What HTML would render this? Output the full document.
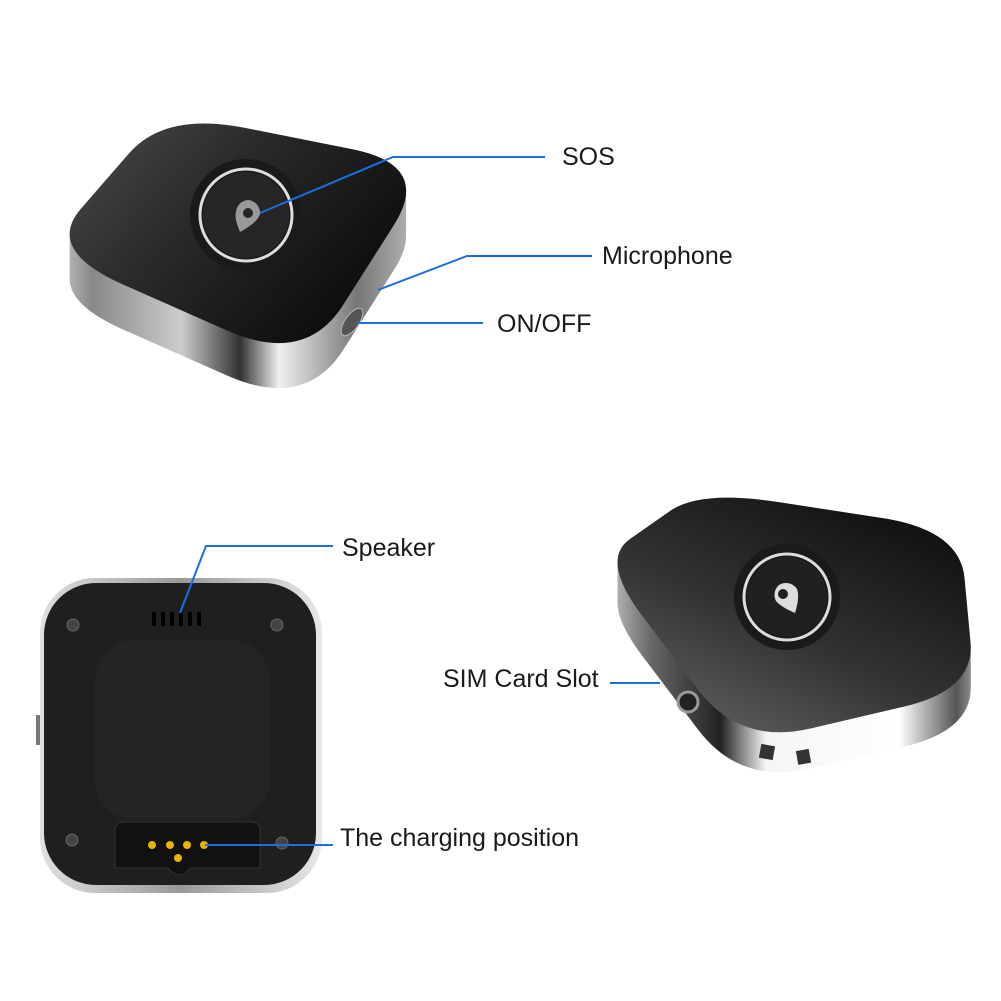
<!DOCTYPE html>
<html><head><meta charset="utf-8"><style>
html,body{margin:0;padding:0;background:#fff;}
svg{display:block}
text{font-family:"Liberation Sans","Noto Sans CJK SC",sans-serif;font-size:25px;fill:#1a1a1a}
</style></head><body>
<svg width="1001" height="1001" viewBox="0 0 1001 1001" xmlns="http://www.w3.org/2000/svg" xmlns:xlink="http://www.w3.org/1999/xlink">
<defs>
<linearGradient id="silv1" gradientUnits="userSpaceOnUse" x1="45" y1="0" x2="435" y2="0">
<stop offset="0" stop-color="#e0e0e0"/><stop offset="0.12" stop-color="#888"/><stop offset="0.35" stop-color="#ccc"/><stop offset="0.5" stop-color="#333"/><stop offset="0.6" stop-color="#f0f0f0"/><stop offset="0.8" stop-color="#777"/><stop offset="1" stop-color="#ccc"/>
</linearGradient>
<linearGradient id="silv2" gradientUnits="userSpaceOnUse" x1="595" y1="0" x2="975" y2="0">
<stop offset="0" stop-color="#ddd"/><stop offset="0.15" stop-color="#666"/><stop offset="0.33" stop-color="#222"/><stop offset="0.45" stop-color="#f5f5f5"/><stop offset="0.8" stop-color="#fff"/><stop offset="0.95" stop-color="#555"/><stop offset="1" stop-color="#999"/>
</linearGradient>
<linearGradient id="face1" x1="0" y1="0" x2="1" y2="0.6">
<stop offset="0" stop-color="#4a4a4a"/><stop offset="0.45" stop-color="#2a2a2a"/><stop offset="1" stop-color="#0c0c0c"/>
</linearGradient>
<linearGradient id="face2" x1="0" y1="1" x2="0.7" y2="0">
<stop offset="0" stop-color="#6a6a6a"/><stop offset="0.5" stop-color="#333"/><stop offset="1" stop-color="#111"/>
</linearGradient>
<linearGradient id="backsilver" x1="0" y1="0" x2="1" y2="0">
<stop offset="0" stop-color="#e0e0e0"/><stop offset="0.5" stop-color="#999"/><stop offset="1" stop-color="#e8e8e8"/>
</linearGradient>
<path id="p1" d="M129,153.4 Q165,112 245.1,127.9 L351.9,149.1 Q432,165 393.9,225 L343.1,305 Q305,365 227,330.5 L123,284.5 Q45,250 81,208.6 Z"/>
<path id="p2" d="M642,615.5 Q600,560 630,539 L670,511 Q700,490 778,502 L882,518 Q960,530 964.5,578 L970.5,642 Q975,690 904.5,706.5 L810.5,728.5 Q740,745 698,689.5 Z"/>
</defs>

<g fill="url(#silv1)">
<use xlink:href="#p1" href="#p1" transform="translate(0,45)"/>
<use xlink:href="#p1" href="#p1" transform="translate(0,40)"/>
<use xlink:href="#p1" href="#p1" transform="translate(0,35)"/>
<use xlink:href="#p1" href="#p1" transform="translate(0,30)"/>
<use xlink:href="#p1" href="#p1" transform="translate(0,25)"/>
<use xlink:href="#p1" href="#p1" transform="translate(0,20)"/>
<use xlink:href="#p1" href="#p1" transform="translate(0,15)"/>
<use xlink:href="#p1" href="#p1" transform="translate(0,10)"/>
<use xlink:href="#p1" href="#p1" transform="translate(0,5)"/>
</g>
<use xlink:href="#p1" href="#p1" fill="url(#face1)"/>

<g fill="url(#silv2)">
<use xlink:href="#p2" href="#p2" transform="translate(0,40)"/>
<use xlink:href="#p2" href="#p2" transform="translate(0,35)"/>
<use xlink:href="#p2" href="#p2" transform="translate(0,30)"/>
<use xlink:href="#p2" href="#p2" transform="translate(0,25)"/>
<use xlink:href="#p2" href="#p2" transform="translate(0,20)"/>
<use xlink:href="#p2" href="#p2" transform="translate(0,15)"/>
<use xlink:href="#p2" href="#p2" transform="translate(0,10)"/>
<use xlink:href="#p2" href="#p2" transform="translate(0,5)"/>
</g>
<use xlink:href="#p2" href="#p2" fill="url(#face2)"/>

<!-- Top device details -->
<circle cx="246" cy="215" r="56" fill="#1a1a1a"/>
<circle cx="246" cy="215" r="46" fill="none" stroke="#ddd" stroke-width="3"/>
<circle cx="246" cy="215" r="43" fill="#262626"/>
<path d="M248,200 a13,13 0 0 1 12,14 q-2,8 -20,18 q-6,-14 -4,-20 a13,13 0 0 1 12,-12z" fill="#999"/>
<circle cx="248" cy="213" r="5" fill="#262626"/>
<ellipse cx="352" cy="322" rx="7" ry="16" fill="#555" stroke="#bbb" transform="rotate(35 352 322)"/>
<polyline points="260,213 393,157 545,157" fill="none" stroke="#1a6fe0" stroke-width="2"/>
<text x="562" y="165">SOS</text>
<polyline points="378,290 467,256 592,256" fill="none" stroke="#1a6fe0" stroke-width="2"/>
<text x="602" y="264">Microphone</text>
<polyline points="357,323 483,323" fill="none" stroke="#1a6fe0" stroke-width="2"/>
<text x="497" y="332">ON/OFF</text>

<!-- Bottom-left device (back) -->
<rect x="36" y="715" width="8" height="30" fill="#777"/>
<rect x="40" y="578" width="282" height="315" rx="55" fill="url(#backsilver)"/>
<rect x="44" y="583" width="272" height="302" rx="52" fill="#1f1f1f"/>
<rect x="95" y="640" width="175" height="180" rx="40" fill="#242424"/>
<g fill="#000"><rect x="152" y="612" width="4" height="14"/><rect x="161" y="612" width="4" height="14"/><rect x="170" y="612" width="4" height="14"/><rect x="179" y="612" width="4" height="14"/><rect x="188" y="612" width="4" height="14"/><rect x="197" y="612" width="4" height="14"/></g>
<g fill="#444" stroke="#666"><circle cx="73" cy="625" r="6"/><circle cx="277" cy="625" r="6"/><circle cx="72" cy="840" r="6"/><circle cx="282" cy="843" r="6"/></g>
<path d="M115,830 Q115,822 125,822 L250,822 Q260,822 260,830 L260,868 L190,868 Q180,882 168,868 L115,868Z" fill="#111" stroke="#333"/>
<g fill="#e8b400"><circle cx="152" cy="845" r="4"/><circle cx="187" cy="845" r="4"/><circle cx="204" cy="845" r="4"/><circle cx="170" cy="845" r="4"/><circle cx="178" cy="858" r="4"/></g>
<polyline points="180,613 206,546 333,546" fill="none" stroke="#1a6fe0" stroke-width="2"/>
<text x="342" y="556">Speaker</text>
<polyline points="205,845 333,845" fill="none" stroke="#1a6fe0" stroke-width="2"/>
<text x="340" y="846">The charging position</text>

<!-- Bottom-right device details -->
<circle cx="787" cy="597" r="53" fill="#1a1a1a"/>
<circle cx="787" cy="597" r="43" fill="none" stroke="#ddd" stroke-width="3"/>
<circle cx="787" cy="597" r="40" fill="#202020"/>
<path d="M779,585 a13,13 0 0 1 18,4 q3,8 -2,24 q-14,-6 -19,-12 a13,13 0 0 1 3,-16z" fill="#ddd"/>
<circle cx="783" cy="594" r="5" fill="#202020"/>
<circle cx="688" cy="702" r="10" fill="#222" stroke="#999" stroke-width="3"/>
<rect x="760" y="745" width="14" height="14" fill="#333" transform="rotate(10 767 752)"/>
<rect x="797" y="750" width="13" height="14" fill="#333" transform="rotate(-10 803 757)"/>
<polyline points="610,683 660,683" fill="none" stroke="#1a6fe0" stroke-width="2"/>
<text x="443" y="687">SIM Card Slot</text>
</svg>
</body></html>
